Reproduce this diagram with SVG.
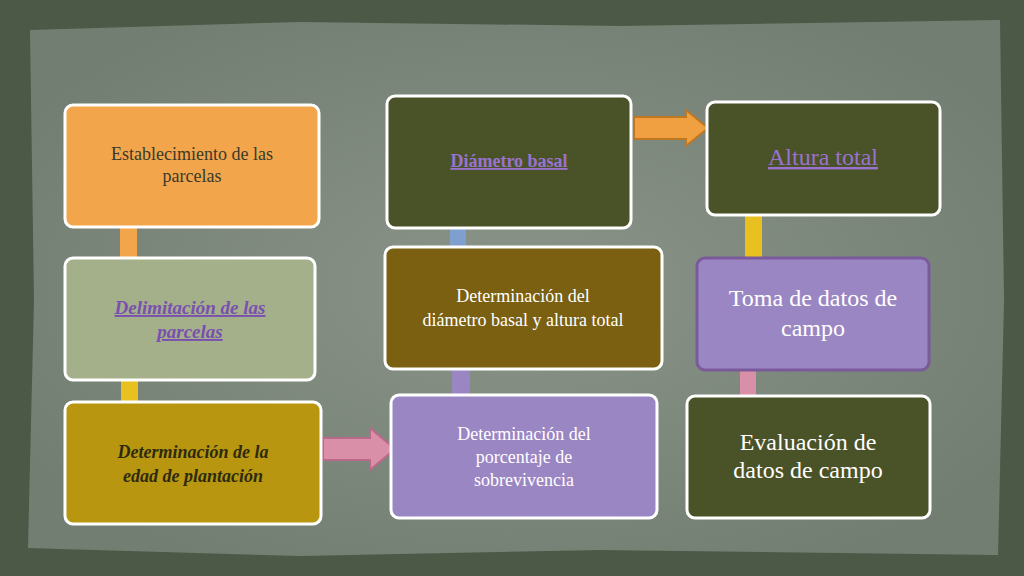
<svg xmlns="http://www.w3.org/2000/svg" width="1024" height="576" viewBox="0 0 1024 576">
<style>
.n{stroke:#fff;stroke-width:3}
.t{font-family:"Liberation Serif",serif;text-anchor:middle}
</style>
<defs>
<radialGradient id="bg" cx="50%" cy="50%" r="60%"><stop offset="0" stop-color="#8a9488"/><stop offset="1" stop-color="#737e72"/></radialGradient>
</defs>
<rect width="1024" height="576" fill="#4d5947"/>
<path d="M30 30 L300 22 L620 26 L1000 20 L1004 300 L998 555 L600 550 L300 556 L28 548 L34 300 Z" fill="url(#bg)"/>
<g id="connectors">
<rect x="120" y="225" width="17" height="35" fill="#f2a54a"/>
<rect x="121" y="378" width="17" height="26" fill="#e8c020"/>
<rect x="450" y="226" width="16" height="23" fill="#7f9fcf"/>
<rect x="452" y="367" width="18" height="30" fill="#9b86c4"/>
<rect x="745" y="213" width="17" height="47" fill="#e8c020"/>
<rect x="740" y="368" width="16" height="30" fill="#d98fa8"/>
<path d="M323 438 H370 V428 L395 449 L370 470 V460 H323 Z" fill="#d98fa8" stroke="#b86a88" stroke-width="2"/>
<path d="M634 117 H686 V110 L708 128 L686 146 V139 H634 Z" fill="#f0a040" stroke="#c07820" stroke-width="2"/>
</g>
<g id="n1"><rect class="n" x="65" y="105" width="254" height="122" rx="8" fill="#f2a54a"/><text class="t" x="192" y="160" font-size="18" fill="#3a3a2a">Establecimiento de las<tspan x="192" dy="22">parcelas</tspan></text></g>
<g id="n2"><rect class="n" x="65" y="258" width="250" height="122" rx="8" fill="#a3b08a"/><text class="t" x="190" y="314" font-size="19" font-weight="bold" font-style="italic" text-decoration="underline" fill="#7a4fb0">Delimitación  de las<tspan x="190" dy="24">parcelas</tspan></text></g>
<g id="n3"><rect class="n" x="65" y="402" width="256" height="122" rx="8" fill="#b8960f"/><text class="t" x="193" y="458" font-size="18" font-weight="bold" font-style="italic" fill="#2e2a10">Determinación de la<tspan x="193" dy="24">edad de  plantación</tspan></text></g>
<g id="n4"><rect class="n" x="387" y="96" width="244" height="132" rx="8" fill="#4a5228"/><text class="t" x="509" y="167" font-size="18" font-weight="bold" text-decoration="underline" fill="#9a72d0">Diámetro basal</text></g>
<g id="n6"><rect class="n" x="385" y="247" width="277" height="122" rx="8" fill="#7a6010"/><text class="t" x="523" y="302" font-size="18" fill="#fff">Determinación del<tspan x="523" dy="24">diámetro basal y altura total</tspan></text></g>
<g id="n5"><rect class="n" x="391" y="395" width="266" height="123" rx="8" fill="#9b86c4"/><text class="t" x="524" y="440" font-size="18" fill="#fff">Determinación del<tspan x="524" dy="23">porcentaje de</tspan><tspan x="524" dy="23">sobrevivencia</tspan></text></g>
<g id="n7"><rect class="n" x="707" y="102" width="233" height="113" rx="8" fill="#4a5228"/><text class="t" x="823" y="165" font-size="24" text-decoration="underline" fill="#9a72d0">Altura total</text></g>
<g id="n8"><rect x="697" y="258" width="232" height="112" rx="8" fill="#9b86c4" stroke="#7a5a9a" stroke-width="3"/><text class="t" x="813" y="306" font-size="24" fill="#fff">Toma de datos de<tspan x="813" dy="30">campo</tspan></text></g>
<g id="n9"><rect class="n" x="687" y="396" width="243" height="122" rx="8" fill="#4a5228"/><text class="t" x="808" y="450" font-size="24" fill="#fff">Evaluación  de<tspan x="808" dy="28">datos de campo</tspan></text></g>
</svg>
